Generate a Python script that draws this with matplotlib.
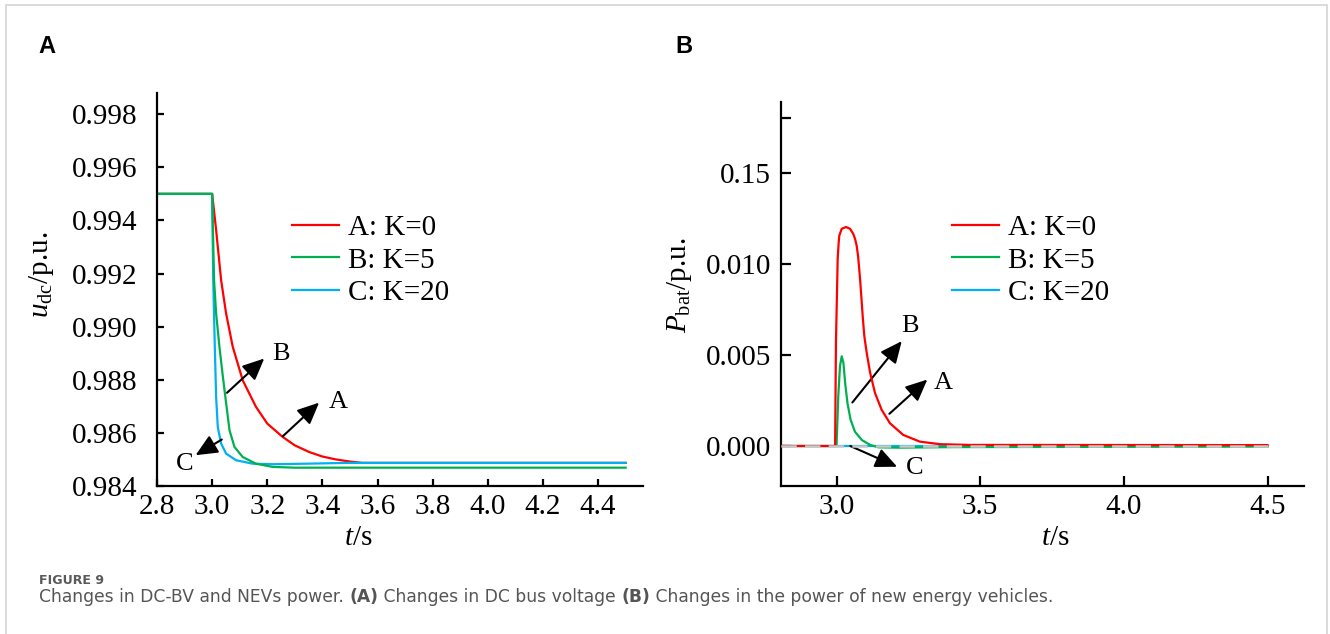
import matplotlib
matplotlib.use("Agg")
import matplotlib.pyplot as plt
from matplotlib.lines import Line2D
from matplotlib.patches import Rectangle

plt.rcParams['font.family'] = ['Liberation Serif', 'DejaVu Serif']
plt.rcParams['mathtext.fontset'] = 'custom'
plt.rcParams['mathtext.rm'] = 'Liberation Serif'
plt.rcParams['mathtext.it'] = 'Liberation Serif:italic'
plt.rcParams['lines.scale_dashes'] = False

# ---------------- data: panel A (DC bus voltage) ----------------
ta_red = [2.8, 3.0, 3.0145, 3.0326, 3.0506, 3.0748, 3.111, 3.159, 3.2, 3.2557, 3.30, 3.352, 3.40, 3.449, 3.50, 3.545, 4.5]
ua_red = [0.995, 0.995, 0.99364, 0.99175, 0.9905, 0.98924, 0.98798, 0.98698, 0.98635, 0.98585, 0.98553,
          0.98528, 0.98511, 0.98500, 0.98492, 0.98487, 0.98487]
ta_green = [2.8, 3.0, 3.007, 3.0145, 3.0265, 3.038, 3.048, 3.063, 3.081, 3.111, 3.159, 3.219, 3.3, 4.5]
ua_green = [0.995, 0.995, 0.99175, 0.9905, 0.98924, 0.98820, 0.98735, 0.9861, 0.98547, 0.98509, 0.98484,
            0.98472, 0.98469, 0.98469]
ta_blue = [2.8, 3.0, 3.004, 3.0097, 3.0145, 3.0205, 3.0326, 3.0506, 3.087, 3.147, 3.219, 3.34, 3.485, 4.5]
ua_blue = [0.995, 0.995, 0.99175, 0.98924, 0.98735, 0.98622, 0.9856, 0.98522, 0.98497, 0.98484, 0.98482,
           0.98484, 0.98487, 0.98487]
a_yticks = [0.984, 0.986, 0.988, 0.990, 0.992, 0.994, 0.996, 0.998]
a_xticks = [2.8, 3.0, 3.2, 3.4, 3.6, 3.8, 4.0, 4.2, 4.4]

# ---------------- data: panel B (NEV power) ----------------
tb_red = [2.8, 2.995, 2.998, 3.004, 3.0076, 3.0097, 3.018, 3.033, 3.047, 3.058, 3.0644, 3.070, 3.0748,
          3.079, 3.0828, 3.085, 3.091, 3.0967, 3.105, 3.117, 3.134, 3.157, 3.186, 3.232, 3.29, 3.36,
          3.465, 4.5]
pb_red = [0, 0, 0.00567, 0.01028, 0.0112, 0.01156, 0.01193, 0.01203, 0.01193, 0.01166, 0.01138, 0.01101,
          0.01046, 0.00972, 0.00899, 0.00850, 0.00714, 0.00604, 0.00512, 0.00402, 0.00291, 0.00199,
          0.00125, 0.00061, 0.00024, 0.0001, 0.00006, 0.00005]
tb_green = [2.8, 3.0, 3.006, 3.012, 3.018, 3.024, 3.030, 3.038, 3.049, 3.064, 3.088, 3.117, 3.145, 3.21, 3.41, 4.5]
pb_green = [0, 0, 0.00272, 0.00438, 0.00493, 0.00457, 0.00346, 0.00236, 0.00144, 0.00079, 0.00033, 0.00006,
            -0.00007, -0.00009, -0.00006, -0.00003]
tb_blue = [2.8, 4.5]
pb_blue = [0, 0]
b_yticks = [0.0, 0.005, 0.010, 0.015, 0.018]
b_yticklabels = ['0.000', '0.005', '0.010', '0.15', '']
b_xticks = [3.0, 3.5, 4.0, 4.5]

labels = ['A: K=0', 'B: K=5', 'C: K=20']
colors = ['#ff0000', '#00b050', '#00b0f0']

W, H = 1330, 634
fig = plt.figure(figsize=(W / 100, H / 100), dpi=100)

def fx(px):
    return px / W

def fy(py):
    return 1 - py / H

# light frame around the figure
fig.patches.append(Rectangle((fx(6), fy(700)), fx(1327) - fx(6), fy(5) - fy(700),
                             transform=fig.transFigure, fill=False, edgecolor='#d4d4d4', lw=1.2))

FS = 21
LW = 1.6

def style_axes(ax, tlen):
    for s in ['top', 'right']:
        ax.spines[s].set_visible(False)
    for s in ['left', 'bottom']:
        ax.spines[s].set_linewidth(1.6)
    ax.tick_params(direction='in', length=tlen, width=1.6, labelsize=FS)

# ---------------- panel A ----------------
axA = fig.add_axes([fx(157), fy(486), fx(643) - fx(157), fy(92.7) - fy(486)])
axA.plot(ta_red, ua_red, color=colors[0], lw=LW)
axA.plot(ta_blue, ua_blue, color=colors[2], lw=LW)
axA.plot(ta_green, ua_green, color=colors[1], lw=LW)
axA.set_xlim(2.8, 4.563)
axA.set_ylim(0.984, 0.99881)
axA.set_yticks(a_yticks)
axA.set_yticklabels([f'{v:.3f}' for v in a_yticks])
axA.set_xticks(a_xticks)
axA.set_xticklabels([f'{v:.1f}' for v in a_xticks])
style_axes(axA, 5)
axA.tick_params(axis='y', pad=14)
axA.tick_params(axis='x', pad=6)

arr = dict(arrowstyle='-|>,head_length=0.55,head_width=0.25', color='k', lw=1.5,
           mutation_scale=24, shrinkA=0, shrinkB=0)
axA.annotate('', xy=(3.189, 0.98880), xytext=(3.054, 0.98751), arrowprops=arr)
axA.text(3.250, 0.98896, 'B', fontsize=19, ha='center', va='center')
axA.annotate('', xy=(3.388, 0.98714), xytext=(3.256, 0.98587), arrowprops=arr)
axA.text(3.458, 0.98717, 'A', fontsize=19, ha='center', va='center')
axA.annotate('', xy=(2.940, 0.98516), xytext=(3.035, 0.98575), arrowprops=arr)
axA.text(2.900, 0.98484, 'C', fontsize=19, ha='center', va='center')

handles = [Line2D([], [], color=c, lw=LW) for c in colors]
axA.legend(handles, labels, loc='upper left', bbox_to_anchor=(0.278, 0.689), frameon=False,
           fontsize=FS, handlelength=1.62, handletextpad=0.3, labelspacing=0.2,
           borderpad=0, borderaxespad=0)

# ---------------- panel B ----------------
axB = fig.add_axes([fx(780.5), fy(485.7), fx(1304) - fx(780.5), fy(102.3) - fy(485.7)])
axB.plot(tb_blue, pb_blue, color=colors[2], lw=LW, zorder=2)
axB.plot(tb_green, pb_green, color=colors[1], lw=LW, zorder=3)
axB.plot(tb_red, pb_red, color=colors[0], lw=LW, zorder=4)
axB.axhline(0, xmin=0, xmax=(4.5 - 2.805) / (4.627 - 2.805), color='#c8c8c8', lw=1.8,
            dashes=(11, 6), zorder=5)
axB.set_xlim(2.805, 4.627)
axB.set_ylim(-0.00218, 0.01888)
axB.set_yticks(b_yticks)
axB.set_yticklabels(b_yticklabels)
axB.set_xticks(b_xticks)
axB.set_xticklabels([f'{v:.1f}' for v in b_xticks])
style_axes(axB, 7)
axB.tick_params(axis='y', pad=7)
axB.tick_params(axis='x', pad=6)

axB.annotate('', xy=(3.227, 0.00576), xytext=(3.055, 0.00239), arrowprops=arr)
axB.text(3.256, 0.00659, 'B', fontsize=19, ha='center', va='center')
axB.annotate('', xy=(3.316, 0.00365), xytext=(3.184, 0.00177), arrowprops=arr)
axB.text(3.37, 0.00346, 'A', fontsize=19, ha='center', va='center')
axB.annotate('', xy=(3.211, -0.00114), xytext=(3.048, 0.0), arrowprops=arr)
axB.text(3.273, -0.00123, 'C', fontsize=19, ha='center', va='center')

axB.legend(handles, labels, loc='upper left', bbox_to_anchor=(0.327, 0.706), frameon=False,
           fontsize=FS, handlelength=1.62, handletextpad=0.3, labelspacing=0.2,
           borderpad=0, borderaxespad=0)

# ---------------- axis labels ----------------
fig.text(fx(42), fy(275), r'$u_{\mathrm{dc}}$/p.u.', rotation=90, fontsize=FS, ha='center', va='center')
fig.text(fx(680), fy(285.5), r'$P_{\mathrm{bat}}$/p.u.', rotation=90, fontsize=FS, ha='center', va='center')
fig.text(fx(358), fy(545), r'$t$/s', fontsize=FS, ha='center', va='baseline')
fig.text(fx(1055), fy(545), r'$t$/s', fontsize=FS, ha='center', va='baseline')

# panel letters
fig.text(fx(47), fy(46.5), 'A', fontsize=17, fontweight='bold', family=['Liberation Sans'],
         ha='center', va='center')
fig.text(fx(683.5), fy(46.5), 'B', fontsize=17, fontweight='bold', family=['Liberation Sans'],
         ha='center', va='center')

# ---------------- caption ----------------
cap_font = ['DejaVu Sans']
fig.text(fx(39), fy(584.3), 'FIGURE 9', fontsize=9.1, color='#5a5a5a', family=cap_font,
         fontweight='bold', va='baseline')
pieces = [('Changes in DC-BV and NEVs power. ', 'normal'), ('(A)', 'bold'),
          (' Changes in DC bus voltage ', 'normal'), ('(B)', 'bold'),
          (' Changes in the power of new energy vehicles.', 'normal')]
fig.canvas.draw()
renderer = fig.canvas.get_renderer()
xcur = 39
for s, wgt in pieces:
    t = fig.text(fx(xcur), fy(602.5), s, fontsize=12.3, color='#555555', family=cap_font,
                 fontweight=wgt, va='baseline')
    bb = t.get_window_extent(renderer)
    xcur += bb.width

fig.savefig('out.png', dpi=100)
